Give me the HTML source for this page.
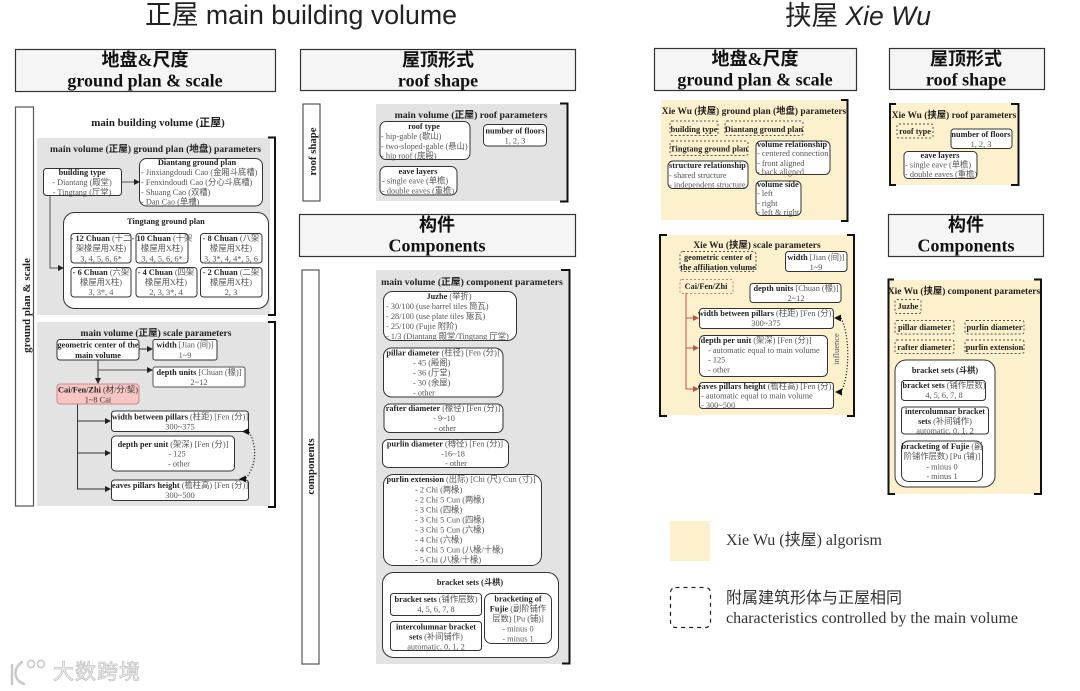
<!DOCTYPE html>
<html><head><meta charset="utf-8"><style>
html,body{margin:0;padding:0;background:#fff;width:1080px;height:691px;overflow:hidden}
svg{display:block}
text{font-family:"Liberation Serif","Noto Sans CJK SC",serif;font-size:8.3px;fill:#555}
.c{text-anchor:middle}
.b,.b tspan{font-weight:700;fill:#222}
.h1{font-size:18px;font-weight:700;fill:#111;text-anchor:middle}
.h2{font-size:18px;font-weight:700;fill:#111;text-anchor:middle}
.t{font-size:9.8px;font-weight:700;fill:#222}
.t2{font-size:9.4px;font-weight:700;fill:#222}
.hb{fill:#f5f5f5;stroke:#333;stroke-width:1.2}
.vb{fill:#fff;stroke:#555;stroke-width:1.2}
.r{fill:#fff;stroke:#333;stroke-width:1}
.d{fill:none;stroke:#555;stroke-width:1;stroke-dasharray:2 2}
.l{fill:none;stroke:#333;stroke-width:1}
.br{fill:none;stroke:#111;stroke-width:2}
</style></head><body>
<svg width="1080" height="691" viewBox="0 0 1080 691" xmlns="http://www.w3.org/2000/svg">
<defs>
<marker id="a" markerWidth="6" markerHeight="6" refX="5" refY="3" orient="auto" markerUnits="userSpaceOnUse"><path d="M0 0L6 3L0 6z" fill="#222"/></marker>
<marker id="ar" markerWidth="6" markerHeight="6" refX="5" refY="3" orient="auto" markerUnits="userSpaceOnUse"><path d="M0 0L6 3L0 6z" fill="#b5584a"/></marker>
</defs>

<!-- titles -->
<text x="145" y="24" textLength="312" lengthAdjust="spacingAndGlyphs" style="font-family:'Liberation Sans','Noto Sans CJK SC',sans-serif;font-size:27px;fill:#222">正屋 main building volume</text>
<text x="785" y="25" textLength="146" lengthAdjust="spacingAndGlyphs" style="font-family:'Liberation Sans','Noto Sans CJK SC',sans-serif;font-size:27px;fill:#222">挟屋 <tspan font-style="italic">Xie Wu</tspan></text>

<!-- headers -->
<rect class="hb" x="15.5" y="49.5" width="260" height="42"/>
<text class="h1" x="145" y="66">地盘&amp;尺度</text><text class="h2" x="145" y="86.5">ground plan &amp; scale</text>
<rect class="hb" x="300.5" y="49.5" width="275" height="41"/>
<text class="h1" x="438" y="66">屋顶形式</text><text class="h2" x="438" y="86.5">roof shape</text>
<rect class="hb" x="299.5" y="214.5" width="276" height="42"/>
<text class="h1" x="437" y="231">构件</text><text class="h2" x="437" y="251.5">Components</text>
<rect class="hb" x="654.5" y="48.5" width="202" height="42"/>
<text class="h1" x="755" y="65">地盘&amp;尺度</text><text class="h2" x="755" y="85.5">ground plan &amp; scale</text>
<rect class="hb" x="889.5" y="48.5" width="155" height="41"/>
<text class="h1" x="966" y="65">屋顶形式</text><text class="h2" x="966" y="85.5">roof shape</text>
<rect class="hb" x="888.5" y="214.5" width="155" height="42"/>
<text class="h1" x="966" y="231">构件</text><text class="h2" x="966" y="251.5">Components</text>

<!-- vertical bars -->
<rect class="vb" x="15.5" y="107" width="18" height="399"/>
<text class="b c" transform="translate(30,305.5) rotate(-90)" style="font-size:11px">ground plan &amp; scale</text>
<rect class="vb" x="303" y="104" width="17" height="97"/>
<text class="b c" transform="translate(316,151.5) rotate(-90)" style="font-size:10.8px">roof shape</text>
<rect class="vb" x="302" y="270" width="17" height="394"/>
<text class="b c" transform="translate(314,466.5) rotate(-90)" style="font-size:11px">components</text>

<text class="b c" x="158" y="126" style="font-size:10.9px">main building volume (正屋)</text>

<!-- panel: ground plan -->
<rect x="37" y="138" width="233" height="177" fill="#e3e3e3"/>
<path class="br" d="M268 137.5H275V315H268"/>
<text class="t c" x="155.500" y="152" style="font-size:9.6px">main volume (正屋) ground plan (地盘) parameters</text>
<rect class="r" x="43.5" y="168.5" width="78" height="27" rx="3"/>
<text class="b c" x="82" y="175">building type</text>
<text class="c" x="82" y="185">- Diantang (殿堂)</text>
<text class="c" x="82" y="195">- Tingtang (厅堂)</text>
<rect class="r" x="139.5" y="158.5" width="123" height="47.5" rx="7"/>
<text class="b c" x="197" y="165">Diantang ground plan</text>
<text x="141" y="175">- Jinxiangdoudi Cao (金厢斗底槽)</text>
<text x="141" y="185">- Fenxindoudi Cao (分心斗底槽)</text>
<text x="141" y="195">- Shuang Cao (双槽)</text>
<text x="141" y="204.5">- Dan Cao (单槽)</text>
<rect class="r" x="63.5" y="212.5" width="205" height="96" rx="11"/>
<text class="b c" x="166" y="224">Tingtang ground plan</text>
<rect class="r" x="71" y="233.5" width="60" height="29.5" rx="3"/>
<rect class="r" x="136" y="233.5" width="52" height="29.5" rx="3"/>
<rect class="r" x="200.5" y="233.5" width="61.5" height="29.5" rx="3"/>
<rect class="r" x="71" y="267.5" width="60" height="29.5" rx="3"/>
<rect class="r" x="136" y="267.5" width="61" height="29.5" rx="3"/>
<rect class="r" x="200.5" y="267.5" width="61.5" height="29.5" rx="3"/>
<text class="c" x="101" y="241"><tspan class="b">- 12 Chuan</tspan> (十二</text><text class="c" x="101" y="251">架椽屋用X柱)</text><text class="c" x="101" y="261.5">3, 4, 5, 6, 6*</text>
<text class="c" x="162" y="241"><tspan class="b">- 10 Chuan</tspan> (十架</text><text class="c" x="162" y="251">椽屋用X柱)</text><text class="c" x="162" y="261.5">3, 4, 5, 6, 6*</text>
<text class="c" x="231" y="241"><tspan class="b">- 8 Chuan</tspan> (八架</text><text class="c" x="231" y="251">椽屋用X柱)</text><text class="c" x="231" y="261.5">3, 3*, 4, 4*, 5, 6</text>
<text class="c" x="101" y="275"><tspan class="b">- 6 Chuan</tspan> (六架</text><text class="c" x="101" y="285">椽屋用X柱)</text><text class="c" x="101" y="295">3, 3*, 4</text>
<text class="c" x="166" y="275"><tspan class="b">- 4 Chuan</tspan> (四架</text><text class="c" x="166" y="285">椽屋用X柱)</text><text class="c" x="166" y="295">2, 3, 3*, 4</text>
<text class="c" x="231" y="275"><tspan class="b">- 2 Chuan</tspan> (二架</text><text class="c" x="231" y="285">椽屋用X柱)</text><text class="c" x="231" y="295">2, 3</text>
<path d="M121 182H139" class="l" marker-end="url(#a)" style="stroke:#555"/>
<path d="M50 196V268H63" class="l" marker-end="url(#a)" style="stroke:#555"/>

<!-- panel: scale -->
<rect x="37" y="322" width="233" height="184" fill="#e3e3e3"/>
<path class="br" d="M268 322H275V507H268"/>
<text class="t2 c" x="156" y="336" style="font-size:9.5px">main volume (正屋) scale parameters</text>
<path class="l" d="M139 349H152" marker-end="url(#a)"/>
<path class="l" d="M98 360V383" marker-end="url(#a)"/>
<path class="l" d="M98 370H152" marker-end="url(#a)" style="stroke:#555"/>
<path class="l" d="M77.5 404V489H110" marker-end="url(#a)"/>
<path class="l" d="M77.5 421H110" marker-end="url(#a)"/>
<path class="l" d="M77.5 453H110" marker-end="url(#a)"/>
<rect class="r" x="57" y="339.5" width="82" height="20.5" rx="3"/>
<text class="b c" x="98" y="347.5">geometric center of the</text><text class="b c" x="98" y="358">main volume</text>
<rect class="r" x="153" y="339.5" width="64" height="20.5" rx="2"/>
<text class="c" x="185" y="347.5"><tspan class="b">width</tspan> [Jian (间)]</text><text class="c" x="185" y="358">1~9</text>
<rect class="r" x="153" y="367" width="92" height="20" rx="2" style="stroke:#555"/>
<text class="c" x="199" y="375"><tspan class="b">depth units</tspan> [Chuan (椽)]</text><text class="c" x="199" y="385">2~12</text>
<rect x="57" y="384" width="82" height="20" rx="3" fill="#f6c6c4" stroke="#c98a88"/>
<text class="c" x="98" y="392.5" style="fill:#333"><tspan class="b">Cai/Fen/Zhi</tspan> (材/分/栔)</text><text class="c" x="98" y="402.5" style="fill:#333">1~8 Cai</text>
<rect class="r" x="111.5" y="411" width="137" height="20.5" rx="3"/>
<text class="c" x="180" y="419.5"><tspan class="b">width between pillars</tspan> (柱距) [Fen (分)]</text><text class="c" x="180" y="429.5">300~375</text>
<rect class="r" x="111.5" y="436" width="123" height="35" rx="4"/>
<text class="c" x="173" y="447"><tspan class="b">depth per unit</tspan> (架深) [Fen (分)]</text><text class="c" x="177" y="456.5">- 125</text><text class="c" x="179" y="466.5">- other</text>
<rect class="r" x="111.5" y="480" width="137" height="20.5" rx="3"/>
<text class="c" x="180" y="488"><tspan class="b">eaves pillars height</tspan> (檐柱高) [Fen (分)]</text><text class="c" x="180" y="498">300~500</text>
<path d="M249 432C257 445 257 465 246 478" fill="none" stroke="#222" stroke-width="1.2" stroke-dasharray="1.2 1.8"/>
<path d="M242 431.5L249 428V435z" fill="#111"/>
<path d="M239 479L246 475.5V482.5z" fill="#111"/>

<!-- panel: roof -->
<rect x="376" y="104" width="191" height="97" fill="#e3e3e3"/>
<path class="br" d="M560 103.5H567.5V201.5H560"/>
<text class="t c" x="471" y="118">main volume (正屋) roof parameters</text>
<rect class="r" x="380" y="121.5" width="90" height="38" rx="6"/>
<text class="b c" x="424" y="129">roof type</text>
<text x="381" y="139">-  hip-gable (歇山)</text><text x="381" y="149">- two-sloped-gable (悬山)</text><text x="381" y="158.5">- hip roof (庑殿)</text>
<rect class="r" x="483.5" y="124.5" width="63" height="21.5" rx="4"/>
<text class="b c" x="515" y="133.5">number of floors</text><text class="c" x="515" y="143.5">1, 2, 3</text>
<rect class="r" x="380" y="166.5" width="77" height="28.5" rx="6"/>
<text class="b c" x="418" y="174">eave layers</text>
<text x="382" y="183.5">- single eave (单檐)</text><text x="382" y="193.5">- double eaves (重檐)</text>

<!-- panel: components -->
<rect x="376" y="270" width="194" height="394" fill="#e3e3e3"/>
<path class="br" d="M561 270H569.5V663.5H562"/>
<text class="t c" x="472" y="285">main volume (正屋) component parameters</text>
<rect class="r" x="383.5" y="291.5" width="133" height="49" rx="9"/>
<text class="c" x="449" y="299"><tspan class="b">Juzhe</tspan> (举折)</text>
<text x="386" y="309">- 30/100 (use barrel tiles 筒瓦)</text><text x="386" y="319">- 28/100 (use plate tiles 瓪瓦)</text><text x="386" y="329">- 25/100 (Fujie 附阶)</text><text x="386" y="339">- 1/3 (Diantang 殿堂/Tingtang 厅堂)</text>
<rect class="r" x="383.5" y="348" width="119.5" height="49" rx="8"/>
<text class="c" x="443" y="355.5"><tspan class="b">pillar diameter</tspan> (柱径) [Fen (分)]</text>
<text x="413" y="365.5">- 45 (殿阁)</text><text x="413" y="375.5">- 36 (厅堂)</text><text x="413" y="385.5">- 30 (余屋)</text><text x="413" y="395.5">- other</text>
<rect class="r" x="384" y="404" width="119" height="28.5" rx="6"/>
<text class="c" x="443" y="411"><tspan class="b">rafter diameter</tspan> (椽径) [Fen (分)]</text><text class="c" x="444" y="421">- 9~10</text><text class="c" x="445" y="431">- other</text>
<rect class="r" x="382.5" y="439.5" width="126" height="28" rx="6"/>
<text class="c" x="445" y="446.5"><tspan class="b">purlin diameter</tspan> (槫径) [Fen (分)]</text><text class="c" x="453" y="456.5">-16~18</text><text class="c" x="456" y="466">- other</text>
<rect class="r" x="383.5" y="474.5" width="158" height="91" rx="10"/>
<text class="c" x="461" y="482"><tspan class="b">purlin extension</tspan> (出际) [Chi (尺) Cun (寸)]</text>
<text x="415" y="492.5">- 2 Chi (两椽)</text><text x="415" y="502.5">- 2 Chi 5 Cun (两椽)</text><text x="415" y="512.5">- 3 Chi (四椽)</text><text x="415" y="522.5">- 3 Chi 5 Cun (四椽)</text><text x="415" y="532.5">- 3 Chi 5 Cun (六椽)</text><text x="415" y="542.5">- 4 Chi (六椽)</text><text x="415" y="552.5">- 4 Chi 5 Cun (八椽/十椽)</text><text x="415" y="562.5">- 5 Chi (八椽/十椽)</text>
<rect class="r" x="382.5" y="572.5" width="176" height="85" rx="11"/>
<text class="b c" x="470" y="585">bracket sets (斗栱)</text>
<rect class="r" x="390.5" y="593.5" width="91" height="22" rx="3"/>
<text class="c" x="436" y="602"><tspan class="b">bracket sets</tspan> (铺作层数)</text><text class="c" x="436" y="612">4, 5, 6, 7, 8</text>
<rect class="r" x="390.5" y="621.5" width="91" height="29" rx="3"/>
<text class="b c" x="436" y="629.5">intercolumnar bracket</text><text class="c" x="436" y="639.5"><tspan class="b">sets</tspan> (补间铺作)</text><text class="c" x="436" y="649.5">automatic, 0, 1, 2</text>
<rect class="r" x="484.5" y="593.5" width="67" height="50" rx="7"/>
<text class="b c" x="518" y="601.5">bracketing of</text><text class="c" x="518" y="611.5"><tspan class="b">Fujie</tspan> (副阶铺作</text><text class="c" x="518" y="621.5">层数) [Pu (铺)]</text><text class="c" x="518" y="631.5">- minus 0</text><text class="c" x="518" y="641.5">- minus 1</text>

<!-- Xie Wu ground -->
<rect x="661" y="100" width="186" height="120" fill="#fdf0cc"/>
<path class="br" d="M841 100H847.5V221H841"/>
<text class="t2 c" x="754" y="114">Xie Wu (挟屋) ground plan (地盘) parameters</text>
<rect class="d" x="670" y="121" width="48" height="14.5" rx="2"/><text class="b c" x="694" y="132">building type</text>
<rect class="d" x="725" y="121" width="78" height="14.5" rx="2"/><text class="b c" x="764" y="132">Diantang ground plan</text>
<rect class="d" x="670" y="141" width="78" height="14.5" rx="2"/><text class="b c" x="709" y="151.5">Tingtang ground plan</text>
<rect class="r" x="756" y="141" width="74" height="33.5" rx="5"/>
<text class="b" x="757" y="147">volume relationship</text><text x="757" y="156">- centered connection</text><text x="757" y="166">- front aligned</text><text x="757" y="174.5">- back aligned</text>
<rect class="r" x="668" y="161" width="80" height="27.5" rx="5"/>
<text class="b" x="669" y="168">structure relationship</text><text x="669" y="178">- shared structure</text><text x="669" y="187.5">- independent structure</text>
<rect class="r" x="756" y="181" width="45" height="34.5" rx="5"/>
<text class="b" x="757" y="187">volume side</text><text x="757" y="196">- left</text><text x="757" y="206">- right</text><text x="757" y="215">- left &amp; right</text>

<!-- Xie Wu scale -->
<rect x="659" y="235" width="196" height="180" fill="#fdf0cc"/>
<path class="br" d="M667 235H660V416H667M847 235H854V416H847"/>
<text class="t2 c" x="757" y="248">Xie Wu (挟屋) scale parameters</text>
<rect class="d" x="680" y="251.5" width="76" height="20" rx="3"/>
<text class="b c" x="718" y="260">geometric center of</text><text class="b c" x="718" y="270">the affiliation volume</text>
<rect class="r" x="785.5" y="251.5" width="61.5" height="20" rx="3"/>
<text class="c" x="816" y="260"><tspan class="b">width</tspan> [Jian (间)]</text><text class="c" x="816" y="270">1~9</text>
<rect x="680" y="279.5" width="53" height="14" rx="2" fill="none" stroke="#c9897a" stroke-dasharray="2 2"/>
<text class="b c" x="706" y="289">Cai/Fen/Zhi</text>
<rect class="r" x="750" y="283.5" width="91" height="19" rx="3"/>
<text class="c" x="796" y="291"><tspan class="b">depth units</tspan> [Chuan (椽)]</text><text class="c" x="796" y="301">2~12</text>
<path d="M686 293V389H698" fill="none" stroke="#b5584a" marker-end="url(#ar)"/>
<path d="M686 318H698" fill="none" stroke="#b5584a" marker-end="url(#ar)"/>
<path d="M686 348H698" fill="none" stroke="#b5584a" marker-end="url(#ar)"/>
<rect class="r" x="699.5" y="308.5" width="134" height="20" rx="3"/>
<text class="c" x="766" y="316"><tspan class="b">width between pillars</tspan> (柱距) [Fen (分)]</text><text class="c" x="766" y="326">300~375</text>
<rect class="r" x="699.5" y="335.5" width="128" height="41" rx="5"/>
<text class="c" x="756" y="343"><tspan class="b">depth per unit</tspan> (架深) [Fen (分)]</text><text x="708" y="353">- automatic equal to main volume</text><text x="708" y="362.5">- 125</text><text x="708" y="372.5">- other</text>
<rect class="r" x="699.5" y="382.5" width="134" height="26" rx="3"/>
<text class="c" x="766" y="389"><tspan class="b">eaves pillars height</tspan> (檐柱高) [Fen (分)]</text><text x="701" y="398.5">- automatic equal to main volume</text><text x="701" y="408">- 300~500</text>
<path d="M841 318C850 335 850 375 841 392" fill="none" stroke="#222" stroke-width="1.2" stroke-dasharray="1.2 1.8"/>
<path d="M834 318L841 314.5V321.5z" fill="#111"/>
<path d="M835 392L842 388.5V395.5z" fill="#111"/>
<text class="c" transform="translate(839,349) rotate(-90)" style="font-size:8.5px">influence</text>

<!-- Xie Wu roof -->
<rect x="890" y="103" width="128" height="82" fill="#fdf0cc"/>
<path class="br" d="M896 104H890V185H896M1011 104H1018.5V185H1011"/>
<text class="t2 c" x="954" y="118">Xie Wu (挟屋) roof parameters</text>
<rect class="d" x="897" y="124" width="36" height="14" rx="2"/><text class="b c" x="915" y="134">roof type</text>
<rect class="r" x="951" y="129" width="61" height="19.5" rx="3"/>
<text class="b c" x="981" y="137">number of floors</text><text class="c" x="981" y="147">1, 2, 3</text>
<rect class="r" x="904" y="151.5" width="73" height="27" rx="4"/>
<text class="b c" x="940" y="158">eave layers</text><text x="905" y="167.5">- single eave (单檐)</text><text x="905" y="177">- double eaves (重檐)</text>

<!-- Xie Wu components -->
<rect x="888" y="280" width="153" height="214" fill="#fdf0cc"/>
<path class="br" d="M894 279.5H888.5V494H895M1034 279.5H1041V494H1034"/>
<text class="t2 c" x="964" y="294">Xie Wu (挟屋) component parameters</text>
<rect class="d" x="895" y="299.5" width="26" height="14" rx="2"/><text class="b c" x="908" y="309">Juzhe</text>
<rect class="d" x="895" y="320.5" width="59" height="13.5" rx="2"/><text class="b c" x="924.5" y="330">pillar diameter</text>
<rect class="d" x="965" y="320.5" width="59" height="13.5" rx="2"/><text class="b c" x="994.5" y="330">purlin diameter</text>
<rect class="d" x="895" y="340" width="59" height="13.5" rx="2"/><text class="b c" x="924.5" y="350">rafter diameter</text>
<rect class="d" x="965" y="340" width="59" height="13.5" rx="2"/><text class="b c" x="994.5" y="350">purlin extension</text>
<rect class="r" x="895" y="360" width="100" height="127" rx="11"/>
<text class="b c" x="945" y="373">bracket sets (斗栱)</text>
<rect class="r" x="901.5" y="380.5" width="84" height="20" rx="3"/>
<text class="c" x="944" y="388"><tspan class="b">bracket sets</tspan> (铺作层数)</text><text class="c" x="944" y="398">4, 5, 6, 7, 8</text>
<rect class="r" x="901.5" y="407" width="87" height="27" rx="3"/>
<text class="b c" x="945" y="414">intercolumnar bracket</text><text class="c" x="945" y="424"><tspan class="b">sets</tspan> (补间铺作)</text><text class="c" x="945" y="433.5">automatic, 0, 1, 2</text>
<rect class="r" x="901.5" y="441" width="81" height="40.5" rx="7"/>
<text class="c" x="942" y="449"><tspan class="b">bracketing of Fujie</tspan> (副</text><text class="c" x="942" y="459">阶铺作层数) [Pu (铺)]</text><text class="c" x="942" y="469.5">- minus 0</text><text class="c" x="942" y="479">- minus 1</text>

<!-- legend -->
<rect x="670" y="521" width="40" height="40" fill="#fdf0cc"/>
<text x="726" y="545" style="font-size:16px;fill:#333">Xie Wu (挟屋) algorism</text>
<rect x="670.5" y="587.5" width="40" height="40" rx="5" fill="none" stroke="#222" stroke-width="1.2" stroke-dasharray="4 4"/>
<text x="726" y="603" style="font-size:16px;fill:#333;font-family:'Noto Sans CJK SC',sans-serif">附属建筑形体与正屋相同</text>
<text x="726" y="623" textLength="292" lengthAdjust="spacingAndGlyphs" style="font-size:16px;fill:#333">characteristics controlled by the main volume</text>

<!-- watermark -->
<g fill="none" stroke="#c8c8c8" stroke-width="2.5" stroke-linecap="round">
<path d="M12 665V684M22 662C13 668 13 680 24 684"/>
<circle cx="31" cy="664" r="3.5" stroke-width="1.5"/><circle cx="41" cy="664" r="3.5" stroke-width="1.5"/>
</g>
<text x="53" y="679" style="font-size:21px;font-family:'Noto Sans CJK SC',sans-serif;fill:#f7f7f7;stroke:#c4c4c4;stroke-width:.8px;letter-spacing:1px">大数跨境</text>
</svg>
</body></html>
